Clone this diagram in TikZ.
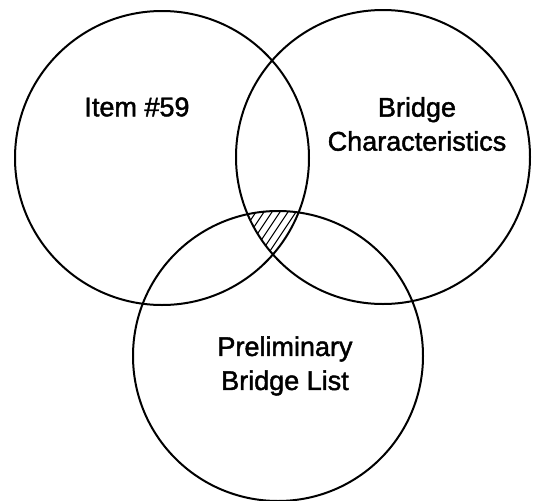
\documentclass[tikz,border=0pt]{standalone}
\usepackage{fontspec}
\setmainfont{Liberation Sans}[BoldFont=Liberation Sans,BoldFeatures={FakeBold=1.6}]
\begin{document}
\begin{tikzpicture}[x=1pt,y=-1pt,
  venn/.style={circle,draw=black,line width=2pt,inner sep=0pt},
  lbl/.style={font=\fontsize{27}{34}\selectfont\bfseries,align=center,text=black},
  hatch/.style={line width=1pt}]
\useasboundingbox (0,0) rectangle (536,501);
\fill[white] (0,0) rectangle (536,501);
% hatched triple intersection
\begin{scope}
  \clip (162,158) circle (147);
  \clip (383,157) circle (147);
  \clip (278,356) circle (145);
  \foreach \i in {-12,...,14} {
    \draw[hatch] (240+\i*8,260) -- ++(50,-75);
  }
\end{scope}
\node[venn,minimum size=294pt] (c1) at (162,158) {};
\node[venn,minimum size=294pt] (c2) at (383,157) {};
\node[venn,minimum size=290pt] (c3) at (278,356) {};
\node[lbl] (t1) at (137,107) {Item \#59};
\node[lbl] (t2) at (417,124) {Bridge\\Characteristics};
\node[lbl] (t3) at (285,366) {Preliminary\\Bridge List};
\end{tikzpicture}
\end{document}
